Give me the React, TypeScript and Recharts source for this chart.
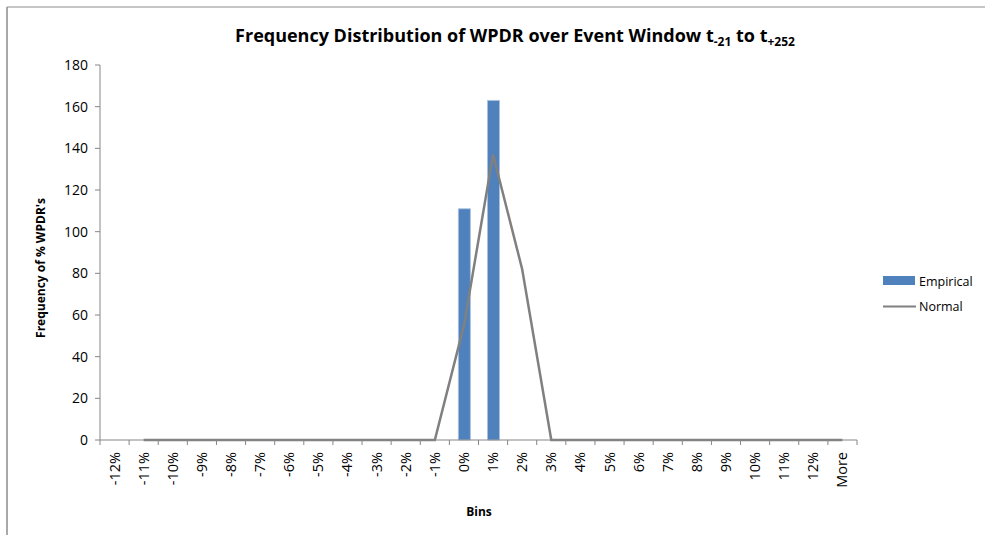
import React from 'react';
import { ComposedChart, Bar, Line, XAxis, YAxis, Customized } from 'recharts';

const bins = ['-12%', '-11%', '-10%', '-9%', '-8%', '-7%', '-6%', '-5%', '-4%', '-3%', '-2%', '-1%', '0%', '1%', '2%', '3%', '4%', '5%', '6%', '7%', '8%', '9%', '10%', '11%', '12%', 'More'];
const empirical = [0, 0, 0, 0, 0, 0, 0, 0, 0, 0, 0, 0, 111, 163, 0, 0, 0, 0, 0, 0, 0, 0, 0, 0, 0, 0];
const normal = [null, 0, 0, 0, 0, 0, 0, 0, 0, 0, 0, 0, 55, 137, 82, 0, 0, 0, 0, 0, 0, 0, 0, 0, 0, 0];
const yTicks = [0, 20, 40, 60, 80, 100, 120, 140, 160, 180];

const data = bins.map((b, i) => ({ bin: b, Empirical: empirical[i], Normal: normal[i] }));

const W = 985;
const H = 535;
const PLOT_LEFT = 100;
const PLOT_RIGHT = 857;
const PLOT_TOP = 65;
const PLOT_BOTTOM = 440;
const Y_AXIS_W = 60;
const X_AXIS_H = 60;
const BAND = (PLOT_RIGHT - PLOT_LEFT) / bins.length;
const FONT = "'Open Sans', 'Liberation Sans', Arial, sans-serif";
const AXIS = '#868686';

const BinTick = (props: any) => {
  const { x, payload, index } = props;
  return (
    <g>
      {index === 0 && <line x1={x - BAND / 2} x2={x - BAND / 2} y1={PLOT_BOTTOM} y2={PLOT_BOTTOM + 5} stroke={AXIS} />}
      <line x1={x + BAND / 2} x2={x + BAND / 2} y1={PLOT_BOTTOM} y2={PLOT_BOTTOM + 5} stroke={AXIS} />
      <text
        x={0}
        y={0}
        transform={`translate(${x + 5},${PLOT_BOTTOM + 12}) rotate(-90)`}
        textAnchor="end"
        fontSize={14.5}
        fontFamily={FONT}
        fill="#000"
      >
        {payload.value}
      </text>
    </g>
  );
};

const Frame = () => (
  <g>
    <line x1={7} x2={W} y1={7} y2={7} stroke="#8c8c8c" strokeWidth={1} />
    <line x1={7} x2={7} y1={7} y2={H} stroke="#8c8c8c" strokeWidth={1.5} />
    <text x={515} y={42} textAnchor="middle" fontSize={18} fontWeight="bold" fontFamily={FONT} fill="#000">
      Frequency Distribution of WPDR over Event Window t
      <tspan fontSize={12} dy={4}>-21</tspan>
      <tspan dy={-4}> to t</tspan>
      <tspan fontSize={12} dy={4}>+252</tspan>
    </text>
    <text transform="translate(45,268) rotate(-90)" textAnchor="middle" fontSize={12} fontWeight="bold" fontFamily={FONT} fill="#000">
      Frequency of % WPDR's
    </text>
    <text x={479} y={516} textAnchor="middle" fontSize={12} fontWeight="bold" fontFamily={FONT} fill="#000">
      Bins
    </text>
    <rect x={883} y={276} width={32} height={9} fill="#4F81BD" />
    <text x={919} y={285.5} fontSize={12.5} fontFamily={FONT} fill="#000">Empirical</text>
    <line x1={883} x2={916} y1={306.5} y2={306.5} stroke="#808080" strokeWidth={2} />
    <text x={919} y={311} fontSize={12.5} fontFamily={FONT} fill="#000">Normal</text>
  </g>
);

export default function App() {
  return (
    <div style={{ position: 'absolute', left: 0, top: 0, width: W, height: H, background: '#fff' }}>
      <ComposedChart
        width={W}
        height={H}
        data={data}
        margin={{ top: PLOT_TOP, right: W - PLOT_RIGHT, bottom: H - PLOT_BOTTOM - X_AXIS_H, left: PLOT_LEFT - Y_AXIS_W }}
        barCategoryGap="0%"
      >
        <XAxis
          dataKey="bin"
          interval={0}
          axisLine={{ stroke: AXIS }}
          tickLine={false}
          tick={<BinTick />}
          height={X_AXIS_H}
        />
        <YAxis
          domain={[0, 180]}
          ticks={yTicks}
          interval={0}
          width={Y_AXIS_W}
          axisLine={{ stroke: AXIS }}
          tickLine={{ stroke: AXIS }}
          tickSize={5}
          tickMargin={7}
          tick={{ fontSize: 14, fill: '#000', fontFamily: FONT }}
        />
        <Bar dataKey="Empirical" fill="#4F81BD" stroke="#A9C2E0" strokeWidth={0.8} barSize={12} isAnimationActive={false} />
        <Line
          dataKey="Normal"
          type="linear"
          stroke="#808080"
          strokeWidth={2.5}
          dot={false}
          activeDot={false}
          isAnimationActive={false}
        />
        <Customized component={Frame} />
      </ComposedChart>
    </div>
  );
}
